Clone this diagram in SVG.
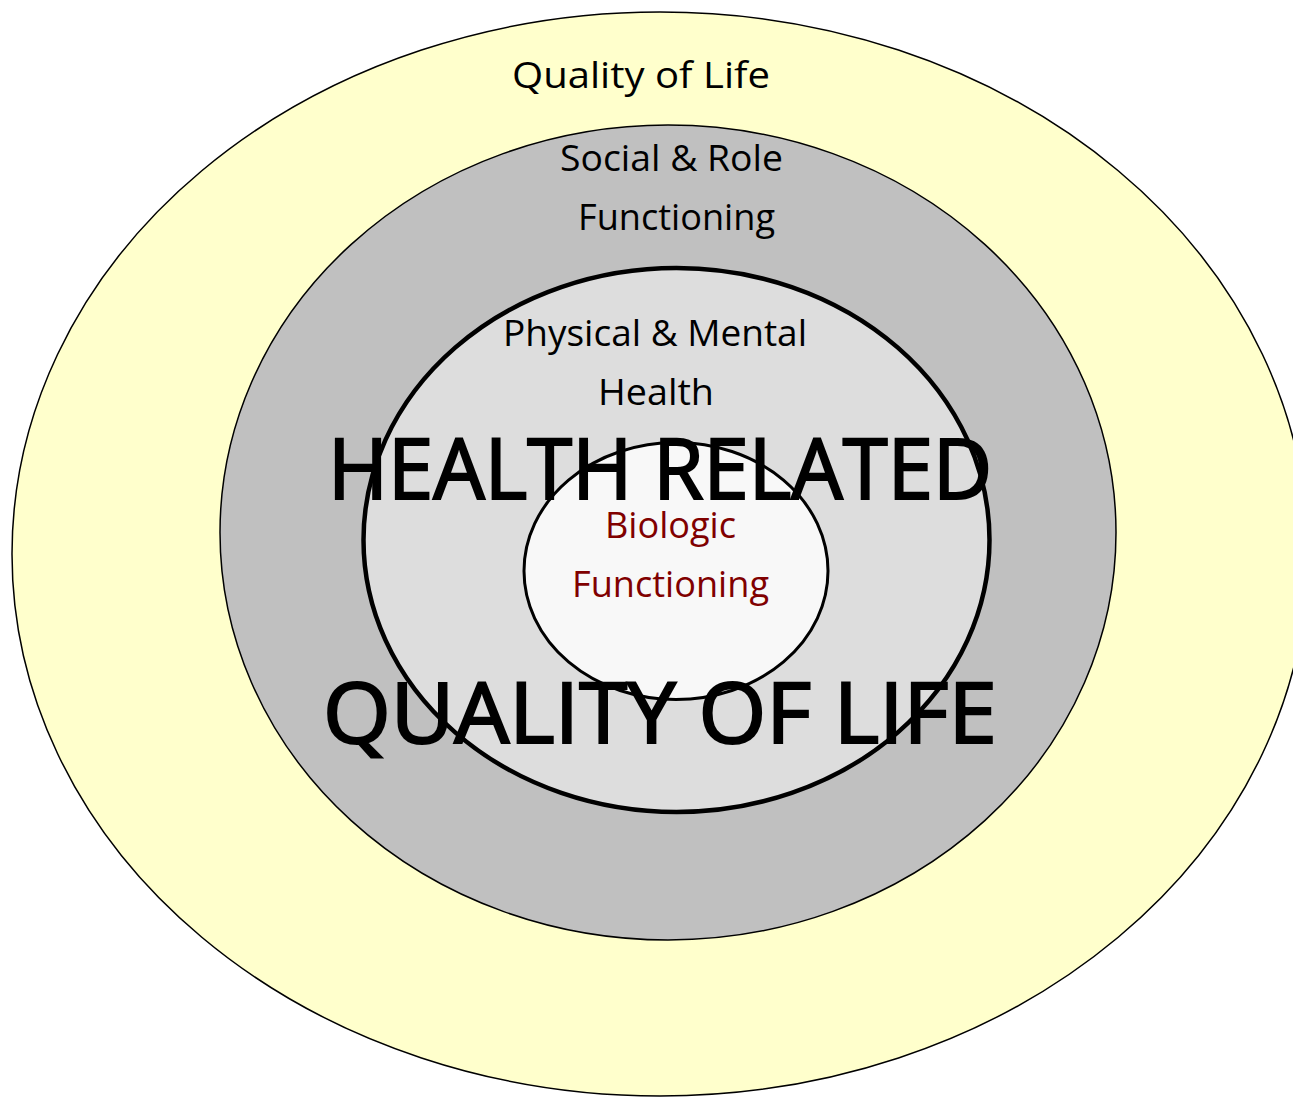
<svg xmlns="http://www.w3.org/2000/svg" width="1293" height="1097" viewBox="0 0 1293 1097">
<style>
text{font-family:"Open Sans","DejaVu Sans",sans-serif;text-anchor:middle;fill:#000}
.s{font-size:36px}
.b{font-size:84px;stroke:#000;stroke-width:2.2px}
.r{fill:#800000}
</style>
<rect width="1293" height="1097" fill="#fff"/>
<g id="qol">
<ellipse cx="660" cy="554" rx="648" ry="542" fill="#FFFFCC" stroke="#000" stroke-width="1.5"/>
</g>
<g id="social">
<ellipse cx="668" cy="532.5" rx="448" ry="407.5" fill="#C0C0C0" stroke="#000" stroke-width="1.5"/>
</g>
<g id="physical">
<ellipse cx="676.5" cy="540" rx="313" ry="272" fill="#DDDDDD" stroke="#000" stroke-width="4.5"/>
</g>
<g id="biologic">
<ellipse cx="676" cy="571" rx="152" ry="128.5" fill="#F8F8F8" stroke="#000" stroke-width="3"/>
</g>
<g id="labels">
<text class="s" x="641" y="88" textLength="258" lengthAdjust="spacingAndGlyphs">Quality of Life</text>
<text class="s" x="671.5" y="171" textLength="223" lengthAdjust="spacingAndGlyphs">Social &amp; Role</text>
<text class="s" x="676.5" y="230" textLength="197" lengthAdjust="spacingAndGlyphs">Functioning</text>
<text class="s" x="655" y="346" textLength="304" lengthAdjust="spacingAndGlyphs">Physical &amp; Mental</text>
<text class="s" x="656" y="405" textLength="116" lengthAdjust="spacingAndGlyphs">Health</text>
<text class="b" x="660" y="499" textLength="664" lengthAdjust="spacingAndGlyphs">HEALTH RELATED</text>
<text class="b" x="660" y="743" textLength="674" lengthAdjust="spacingAndGlyphs">QUALITY OF LIFE</text>
<text class="s r" x="670.5" y="538" textLength="131" lengthAdjust="spacingAndGlyphs">Biologic</text>
<text class="s r" x="670.5" y="597" textLength="197" lengthAdjust="spacingAndGlyphs">Functioning</text>
</g>
</svg>
